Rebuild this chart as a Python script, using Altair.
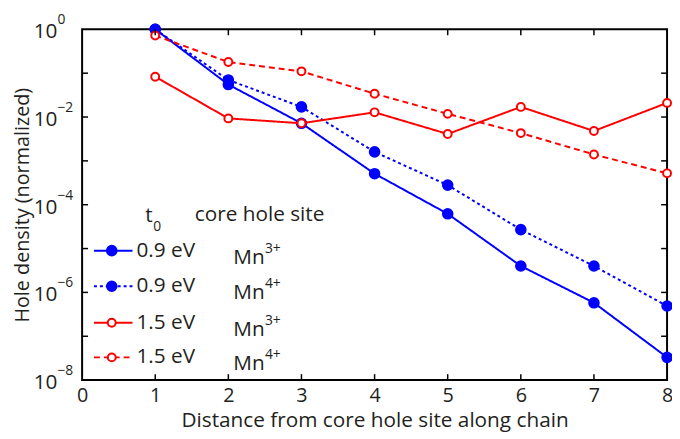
import altair as alt
import pandas as pd

x_vals = [1, 2, 3, 4, 5, 6, 7, 8]
blue_mn3 = [1.0, 0.055, 0.0072, 5.1e-4, 6.2e-5, 4.0e-6, 5.8e-7, 3.3e-8]
blue_mn4 = [1.0, 0.07, 0.017, 1.6e-3, 2.8e-4, 2.7e-5, 4.0e-6, 4.9e-7]
red_mn3 = [0.083, 0.0093, 0.0072, 0.0128, 0.0041, 0.017, 0.0048, 0.021]
red_mn4 = [0.72, 0.18, 0.11, 0.034, 0.0118, 0.0043, 0.0014, 5.2e-4]

series_names = ["0.9 eV Mn3+", "0.9 eV Mn4+", "1.5 eV Mn3+", "1.5 eV Mn4+"]
t0_labels = ["0.9 eV", "0.9 eV", "1.5 eV", "1.5 eV"]
site_charges = ["3+", "4+", "3+", "4+"]
colors = ["#0000ff", "#0000ff", "#ff0000", "#ff0000"]
fills = ["#0000ff", "#0000ff", "#ffffff", "#ffffff"]
dashes = [[1, 0], [3, 3], [1, 0], [6, 4]]

x_ticks = [1, 2, 3, 4, 5, 6, 7]
y_minor = [1e-1, 1e-2, 1e-3, 1e-4, 1e-5, 1e-6, 1e-7]
y_label_vals = [1, 1e-2, 1e-4, 1e-6, 1e-8]
y_label_exps = ["0", "−2", "−4", "−6", "−8"]

W, H = 592, 355
FONT = "Open Sans"
FS = 21
SUP = 14
TXT = "#231f20"

rows = []
for name, ys_ in zip(series_names, [blue_mn3, blue_mn4, red_mn3, red_mn4]):
    for xv, yv in zip(x_vals, ys_):
        rows.append({"series": name, "x": xv, "y": yv})
df = pd.DataFrame(rows)

color_scale = alt.Scale(domain=series_names, range=colors)
fill_scale = alt.Scale(domain=series_names, range=fills)
dash_scale = alt.Scale(domain=series_names, range=dashes)

xs = alt.Scale(domain=[0, 8], nice=False, zero=False)
ys = alt.Scale(type="log", domain=[1e-8, 1], nice=False)

x_enc = alt.X("x:Q", scale=xs,
              axis=alt.Axis(values=list(range(0, 9)), format="d", ticks=False, domain=False, grid=False,
                            labelFlush=False, labelOverlap=False,
                            labelFont=FONT, labelFontSize=20, labelColor=TXT, labelPadding=6,
                            title="Distance from core hole site along chain",
                            titleFont=FONT, titleFontSize=FS, titleFontWeight="normal",
                            titleColor=TXT, titleBaseline="alphabetic", titleY=47))
y_enc = alt.Y("y:Q", scale=ys,
              axis=alt.Axis(values=y_label_vals, labels=False, ticks=False, domain=False,
                            grid=False, title="Hole density (normalized)",
                            titleFont=FONT, titleFontSize=20, titleFontWeight="normal",
                            titleColor=TXT, titleBaseline="alphabetic", titleX=-54,
                            titleAngle=-90))

base = alt.Chart(df)

def lines_for(names):
    return base.transform_filter(alt.FieldOneOfPredicate(field="series", oneOf=names)).mark_line(
        strokeWidth=2).encode(
        x=x_enc, y=y_enc,
        color=alt.Color("series:N", scale=color_scale, legend=None),
        strokeDash=alt.StrokeDash("series:N", scale=dash_scale, legend=None),
        detail="series:N")

def points_for(names, size):
    return base.transform_filter(alt.FieldOneOfPredicate(field="series", oneOf=names)).mark_point(
        shape="circle", strokeWidth=2, size=size, opacity=1, fillOpacity=1).encode(
        x=x_enc, y=y_enc,
        stroke=alt.Stroke("series:N", scale=color_scale, legend=None),
        fill=alt.Fill("series:N", scale=fill_scale, legend=None))

blue = ["0.9 eV Mn3+", "0.9 eV Mn4+"]
red = ["1.5 eV Mn3+", "1.5 eV Mn4+"]

# y tick labels as 10 with superscript exponent
yl = pd.DataFrame({"y": y_label_vals, "exp": y_label_exps, "base": ["10"] * len(y_label_vals)})
yl_base = alt.Chart(yl).mark_text(align="right", baseline="middle", font=FONT, fontSize=FS,
                                  color=TXT, dy=3).encode(
    y=alt.Y("y:Q", scale=ys), x=alt.value(-25), text="base:N")
yl_exp = alt.Chart(yl).mark_text(align="left", baseline="middle", font=FONT, fontSize=SUP,
                                 color=TXT, dy=-9).encode(
    y=alt.Y("y:Q", scale=ys), x=alt.value(-25), text="exp:N")

# inward ticks
xt = pd.DataFrame({"x": x_ticks})
yt = pd.DataFrame({"y": y_minor})
tick_style = dict(color="black", strokeWidth=1.5)
t_bottom = alt.Chart(xt).mark_rule(**tick_style).encode(x=alt.X("x:Q", scale=xs), y=alt.value(H), y2=alt.value(H - 6))
t_top = alt.Chart(xt).mark_rule(**tick_style).encode(x=alt.X("x:Q", scale=xs), y=alt.value(0), y2=alt.value(6))
t_left = alt.Chart(yt).mark_rule(**tick_style).encode(y=alt.Y("y:Q", scale=ys), x=alt.value(0), x2=alt.value(6))
t_right = alt.Chart(yt).mark_rule(**tick_style).encode(y=alt.Y("y:Q", scale=ys), x=alt.value(W), x2=alt.value(W - 6))

# manual legend (pixel layout)
leg = pd.DataFrame({"series": series_names, "t0": t0_labels, "chg": site_charges,
                    "mn": ["Mn"] * 4, "py": [224, 260, 297, 332]})
legbase = alt.Chart(leg)
leg_lines = legbase.mark_rule(strokeWidth=2).encode(
    x=alt.value(12), x2=alt.value(51), y=alt.Y("py:Q", scale=None),
    color=alt.Color("series:N", scale=color_scale, legend=None),
    strokeDash=alt.StrokeDash("series:N", scale=dash_scale, legend=None))
leg_pts_b = legbase.transform_filter(alt.FieldOneOfPredicate(field="series", oneOf=blue)).mark_point(
    shape="circle", strokeWidth=2, size=95, opacity=1, fillOpacity=1).encode(
    x=alt.value(30), y=alt.Y("py:Q", scale=None),
    stroke=alt.Stroke("series:N", scale=color_scale, legend=None),
    fill=alt.Fill("series:N", scale=fill_scale, legend=None))
leg_pts_r = legbase.transform_filter(alt.FieldOneOfPredicate(field="series", oneOf=red)).mark_point(
    shape="circle", strokeWidth=2, size=64, opacity=1, fillOpacity=1).encode(
    x=alt.value(30), y=alt.Y("py:Q", scale=None),
    stroke=alt.Stroke("series:N", scale=color_scale, legend=None),
    fill=alt.Fill("series:N", scale=fill_scale, legend=None))
txt = dict(align="left", baseline="middle", font=FONT, color=TXT)
leg_t0 = legbase.mark_text(fontSize=FS, **txt).encode(
    x=alt.value(55), y=alt.Y("py:Q", scale=None), text="t0:N")
leg_mn = legbase.mark_text(fontSize=FS, dy=7, **txt).encode(
    x=alt.value(153), y=alt.Y("py:Q", scale=None), text="mn:N")
leg_chg = legbase.mark_text(fontSize=SUP, dy=-2, **txt).encode(
    x=alt.value(185), y=alt.Y("py:Q", scale=None), text="chg:N")
hdr = pd.DataFrame({"label": ["t", "0", "core hole site"], "px": [64, 72, 114],
                    "py": [189, 200, 188], "fs": [FS, SUP, FS]})
leg_hdr = alt.Chart(hdr).mark_text(**txt).encode(
    x=alt.X("px:Q", scale=None), y=alt.Y("py:Q", scale=None), text="label:N",
    size=alt.Size("fs:Q", scale=None, legend=None))

chart = alt.layer(
    lines_for(blue), points_for(blue, 95),
    lines_for(red), points_for(red, 64),
    t_bottom, t_top, t_left, t_right, yl_base, yl_exp,
    leg_lines, leg_pts_b, leg_pts_r, leg_t0, leg_mn, leg_chg, leg_hdr,
).properties(
    width=W, height=H,
    autosize=alt.AutoSizeParams(type="none"),
    padding={"left": 75, "top": 19, "right": 5, "bottom": 55},
    background="white",
).configure_view(stroke="black", strokeWidth=2)

chart.save("out.html", embed_options={"renderer": "svg", "actions": False})
